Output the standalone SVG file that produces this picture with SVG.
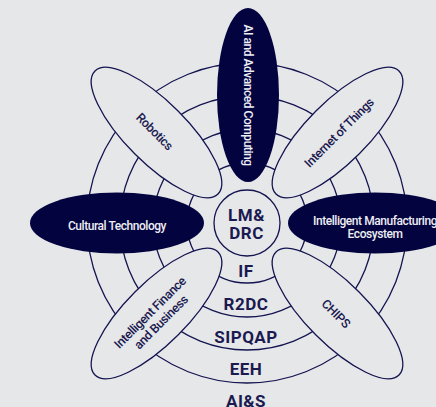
<svg xmlns="http://www.w3.org/2000/svg" width="436" height="407" viewBox="0 0 436 407">
<style>
.ring{fill:none;stroke:#141450;stroke-width:1.3}
.lt{fill:#e6e7e9;stroke:#141450;stroke-width:1.3}
.dk{fill:#03033f;stroke:none}
.t{font-family:Roboto,"Liberation Sans",sans-serif;font-size:12px;font-weight:500;letter-spacing:-0.45px;text-anchor:middle}
.tl{fill:#1a1a50}
.tw{fill:#eeeef5}
.td{font-size:12.5px;letter-spacing:-0.4px}
.rl{font-family:Roboto,"Liberation Sans",sans-serif;font-size:17px;font-weight:bold;letter-spacing:0.5px;text-anchor:middle;fill:#1a1a50}
</style>
<rect x="0" y="0" width="436" height="407" fill="#e6e7e9"/>
<g id="connectors">
<circle class="ring" cx="247" cy="223" r="60"/>
<circle class="ring" cx="247" cy="223" r="94"/>
<circle class="ring" cx="247" cy="223" r="127"/>
<circle class="ring" cx="247" cy="223" r="160"/>
</g>
<g id="node-ai" transform="translate(248,95) rotate(90)">
<ellipse class="dk" cx="0" cy="0" rx="87" ry="31"/>
<text class="t tw" x="0" y="4.3">AI and Advanced Computing</text>
</g>
<g id="node-robotics" transform="translate(156.5,132.5) rotate(45)">
<ellipse class="lt" cx="0" cy="0" rx="87" ry="30.5"/>
<text class="t td tl" x="-2" y="5">Robotics</text>
</g>
<g id="node-iot" transform="translate(337.5,132.5) rotate(-45)">
<ellipse class="lt" cx="0" cy="0" rx="87" ry="30.5"/>
<text class="t td tl" x="1" y="5.5">Internet of Things</text>
</g>
<g id="node-cultural" transform="translate(117,223)">
<ellipse class="dk" cx="0" cy="0" rx="87" ry="30.5"/>
<text class="t tw" x="0" y="6.5">Cultural Technology</text>
</g>
<g id="node-manufacturing" transform="translate(375,223)">
<ellipse class="dk" cx="0" cy="0" rx="87" ry="30.5"/>
<text class="t tw" x="0" y="1.5">Intelligent Manufacturing</text>
<text class="t tw" x="0" y="14.5">Ecosystem</text>
</g>
<g id="node-finance" transform="translate(156.5,313.5) rotate(-45)">
<ellipse class="lt" cx="0" cy="0" rx="87" ry="30.5"/>
<text class="t td tl" x="-4" y="-1">Intelligent Finance</text>
<text class="t td tl" x="-3" y="13.5">and Business</text>
</g>
<g id="node-chips" transform="translate(337.5,313.5) rotate(45)">
<ellipse class="lt" cx="0" cy="0" rx="87" ry="30.5"/>
<text class="t td tl" x="-1" y="5.5">CHIPS</text>
</g>
<g id="node-center">
<circle class="lt" cx="247" cy="223" r="33"/>
<text class="rl" x="246.5" y="220.5">LM&amp;</text>
<text class="rl" x="246.5" y="238.5">DRC</text>
</g>
<g id="ring-labels">
<text class="rl" x="246" y="277">IF</text>
<text class="rl" x="246" y="310">R2DC</text>
<text class="rl" x="246" y="342.5">SIPQAP</text>
<text class="rl" x="246" y="375">EEH</text>
<text class="rl" x="246" y="406.5">AI&amp;S</text>
</g>
</svg>
